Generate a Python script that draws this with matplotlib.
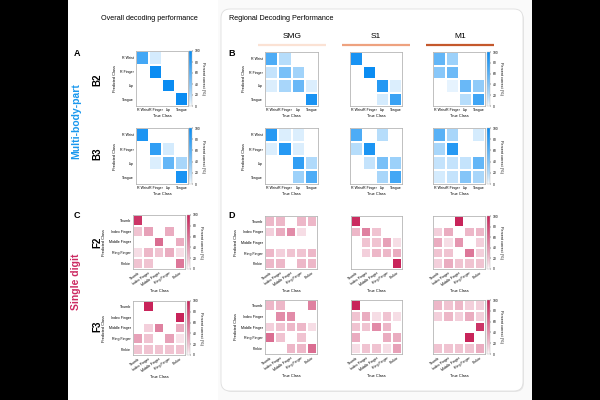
import numpy as np
import matplotlib
matplotlib.use("Agg")
import matplotlib.pyplot as plt
from matplotlib.colors import LinearSegmentedColormap
from matplotlib.patches import FancyBboxPatch, Rectangle

plt.rcParams['font.family'] = ['Liberation Sans', 'DejaVu Sans']

# ---------------- data ----------------
body_classes = ["R Wrist", "R Finger", "Lip", "Tongue"]
digit_classes = ["Thumb", "Index Finger", "Middle Finger", "Ring Finger", "Pinkie"]
regions = ["SMG", "S1", "M1"]
region_colors = ["#fbe2d4", "#eea27f", "#c4582c"]
cbar_ticks = [0, 20, 40, 60, 80, 100]

# rows = predicted class, columns = true class (percent)
b2_overall = [[70, 10, 0, 0], [0, 100, 0, 0], [0, 0, 100, 0], [0, 0, 0, 100]]
b3_overall = [[90, 0, 0, 0], [0, 80, 10, 0], [0, 8, 55, 25], [0, 0, 0, 92]]
b2_smg = [[65, 20, 0, 0], [15, 45, 28, 0], [8, 25, 52, 8], [0, 0, 0, 92]]
b2_s1 = [[92, 0, 0, 0], [0, 100, 0, 0], [0, 0, 85, 8], [0, 0, 10, 75]]
b2_m1 = [[55, 30, 0, 0], [38, 50, 0, 0], [0, 5, 52, 35], [0, 0, 20, 72]]
b3_smg = [[85, 8, 8, 0], [8, 85, 8, 0], [0, 0, 80, 22], [0, 0, 30, 65]]
b3_s1 = [[65, 0, 20, 0], [20, 90, 0, 0], [0, 15, 45, 30], [0, 0, 25, 70]]
b3_m1 = [[60, 25, 0, 10], [25, 85, 0, 0], [15, 15, 15, 55], [10, 15, 40, 25]]

f2_overall = [[90, 0, 0, 0, 0], [20, 35, 0, 30, 0], [0, 0, 60, 0, 30],
              [10, 25, 20, 30, 10], [20, 20, 0, 0, 55]]
f3_overall = [[0, 100, 0, 0, 0], [0, 0, 0, 0, 100], [0, 15, 50, 0, 30],
              [35, 20, 0, 35, 8], [20, 20, 20, 20, 20]]
f2_smg = [[25, 25, 0, 25, 25], [15, 30, 45, 10, 0], [0, 0, 0, 0, 0],
          [25, 15, 20, 20, 25], [25, 25, 0, 25, 25]]
f2_s1 = [[95, 0, 0, 0, 0], [25, 50, 20, 0, 0], [0, 20, 20, 35, 10],
         [0, 15, 25, 25, 30], [0, 0, 0, 0, 100]]
f2_m1 = [[0, 0, 100, 0, 0], [15, 30, 0, 25, 25], [30, 10, 40, 0, 15],
         [20, 20, 0, 55, 15], [15, 30, 20, 20, 20]]
f3_smg = [[25, 25, 0, 0, 50], [0, 45, 45, 0, 0], [15, 20, 25, 25, 10],
          [60, 20, 0, 20, 0], [0, 0, 25, 25, 60]]
f3_s1 = [[100, 0, 0, 0, 0], [20, 30, 10, 20, 10], [20, 20, 45, 25, 0],
         [30, 0, 0, 30, 30], [10, 20, 20, 10, 35]]
f3_m1 = [[25, 20, 25, 15, 15], [15, 25, 15, 30, 15], [0, 0, 0, 0, 90],
         [0, 0, 0, 100, 0], [20, 20, 20, 20, 30]]

# ---------------- style ----------------
blue = LinearSegmentedColormap.from_list("b", ["#ffffff", "#0a8cf2"], gamma=0.75)
pink = LinearSegmentedColormap.from_list("p", ["#ffffff", "#c8245a"], gamma=0.8)

W, H = 600, 400
fig = plt.figure(figsize=(6, 4), dpi=100, facecolor="black")


def box(x0, y0, x1, y1):
    return [x0 / W, 1 - y1 / H, (x1 - x0) / W, (y1 - y0) / H]


# white page and regional rounded box
page = fig.add_axes([0, 0, 1, 1])
page.set_xlim(0, W)
page.set_ylim(H, 0)
page.axis("off")
page.add_patch(Rectangle((68, 0), 464, 400, facecolor="#fafafa", edgecolor="none"))
page.add_patch(Rectangle((68, 0), 150, 400, facecolor="white", edgecolor="none"))
page.add_patch(FancyBboxPatch((223, 11), 301, 381, boxstyle="round,pad=0,rounding_size=9",
                              facecolor="#e8e8e8", edgecolor="none"))
page.add_patch(FancyBboxPatch((221, 9), 302, 382, boxstyle="round,pad=0,rounding_size=9",
                              facecolor="white", edgecolor="#dedede", linewidth=0.6))

page.text(149, 19, "Overall decoding performance", fontsize=5.2, ha="center", va="center")
page.text(229, 19, "Regional Decoding Performance", fontsize=5.2, ha="left", va="center")
for cx, name, col in zip([292, 376, 460], regions, region_colors):
    page.text(cx, 37, name, fontsize=6, ha="center", va="center")
    page.plot([cx - 34, cx + 34], [44.5, 44.5], color=col, lw=1.6, solid_capstyle="butt")

for x, y, s in [(77, 53, "A"), (77, 216, "C"), (232, 53, "B"), (232, 216, "D")]:
    page.text(x, y, s, fontsize=6.5, fontweight="bold", ha="center", va="center")
for y, s in [(80, "B2"), (154, "B3"), (242, "F2"), (326, "F3")]:
    page.text(97, y, s, fontsize=7, fontweight="bold", ha="center", va="center", rotation=90)
page.text(76, 121, "Multi-body-part", fontsize=7.5, fontweight="bold", color="#1a98ee",
          ha="center", va="center", rotation=90)
page.text(76, 282, "Single digit", fontsize=7.5, fontweight="bold", color="#cc2a62",
          ha="center", va="center", rotation=90)


def heat(rect, M, cmap, classes, ylabels, cbar_rect=None, rotate=False):
    ax = fig.add_axes(box(*rect))
    M = np.asarray(M, dtype=float)
    n = len(classes)
    im = ax.pcolormesh(np.arange(n + 1) - 0.5, np.arange(n + 1) - 0.5, M, cmap=cmap,
                       vmin=0, vmax=100, edgecolor="white", linewidth=0.15)
    ax.set_xlim(-0.5, n - 0.5)
    ax.set_ylim(n - 0.5, -0.5)
    ax.set_xticks(range(n))
    ax.set_yticks(range(n))
    if rotate:
        ax.set_xticklabels(classes, fontsize=2.6, rotation=35, ha="right",
                           rotation_mode="anchor")
    else:
        ax.set_xticklabels(classes, fontsize=2.6)
    if ylabels:
        ax.set_yticklabels(classes, fontsize=2.6)
        ax.set_ylabel("Predicted Class", fontsize=2.8, labelpad=2)
    else:
        ax.set_yticklabels([])
    ax.set_xlabel("True Class", fontsize=2.8, labelpad=1.5)
    ax.tick_params(length=0, pad=1.5)
    for s in ax.spines.values():
        s.set_color("#b5b5b5")
        s.set_linewidth(0.6)
    if cbar_rect is not None:
        cax = fig.add_axes(box(*cbar_rect))
        cb = fig.colorbar(im, cax=cax, ticks=cbar_ticks)
        cb.outline.set_linewidth(0.3)
        cb.outline.set_edgecolor("#b5b5b5")
        cax.tick_params(labelsize=2.4, length=1, width=0.3, pad=1)
        cb.set_label("Percent correct (%)", fontsize=2.8, rotation=270, labelpad=3)
    return ax


# Multi-body-part
heat((136, 51, 188, 106), b2_overall, blue, body_classes, True, (189, 51, 192, 106))
heat((136, 128, 188, 184), b3_overall, blue, body_classes, True, (189, 128, 192, 184))
heat((265, 52, 318, 106), b2_smg, blue, body_classes, True)
heat((350, 52, 402, 106), b2_s1, blue, body_classes, False)
heat((433, 52, 485, 106), b2_m1, blue, body_classes, False, (487, 52, 490, 106))
heat((265, 128, 318, 184), b3_smg, blue, body_classes, True)
heat((350, 128, 402, 184), b3_s1, blue, body_classes, False)
heat((433, 128, 485, 184), b3_m1, blue, body_classes, False, (487, 128, 490, 184))

# Single digit
heat((133, 215, 185, 269), f2_overall, pink, digit_classes, True, (187, 215, 190, 269), True)
heat((133, 301, 185, 355), f3_overall, pink, digit_classes, True, (187, 301, 190, 355), True)
heat((265, 216, 317, 269), f2_smg, pink, digit_classes, True, None, True)
heat((351, 216, 402, 269), f2_s1, pink, digit_classes, False, None, True)
heat((433, 216, 485, 269), f2_m1, pink, digit_classes, False, (487, 216, 490, 269), True)
heat((265, 300, 317, 354), f3_smg, pink, digit_classes, True, None, True)
heat((351, 300, 402, 354), f3_s1, pink, digit_classes, False, None, True)
heat((433, 300, 485, 354), f3_m1, pink, digit_classes, False, (487, 300, 490, 354), True)

fig.savefig("out.png", dpi=100, facecolor="black")
